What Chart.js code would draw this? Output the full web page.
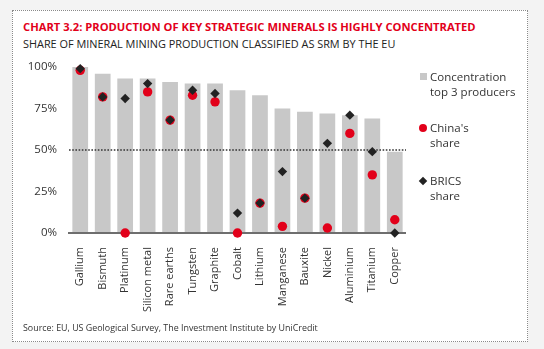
<!DOCTYPE html>
<html>
<head>
<meta charset="utf-8">
<script src="https://cdn.jsdelivr.net/npm/chart.js@4.4.1/dist/chart.umd.min.js"></script>
<style>
  html, body { margin: 0; padding: 0; background: #f3f3f3; }
  #page { position: relative; width: 544px; height: 349px; overflow: hidden; font-family: "Open Sans", sans-serif; }
  #panel { position: absolute; left: 12px; top: 10px; width: 516px; height: 332px; background: #fff;
           border: 1px dotted #8a8a8a; box-sizing: border-box; }
  #title { position: absolute; left: 23px; top: 19px; font-size: 11.2px; font-weight: bold; color: #e2001a; white-space: nowrap; }
  #subtitle { position: absolute; left: 23px; top: 36px; font-size: 10.9px; color: #222; white-space: nowrap; }
  #source { position: absolute; left: 23px; top: 321px; font-size: 8.9px; color: #333; white-space: nowrap; }
  #chart { position: absolute; left: 0; top: 0; }
  .leg { position: absolute; left: 430px; font-size: 11.5px; line-height: 15px; color: #333; }
  .sw { position: absolute; }
</style>
</head>
<body>
<div id="page">
  <div id="panel"></div>
  <div id="title">CHART 3.2: PRODUCTION OF KEY STRATEGIC MINERALS IS HIGHLY CONCENTRATED</div>
  <div id="subtitle">SHARE OF MINERAL MINING PRODUCTION CLASSIFIED AS SRM BY THE EU</div>
  <canvas id="chart" width="544" height="349"></canvas>

  <div class="sw" style="left:420px; top:73px; width:7px; height:7px; background:#c8c8c8;"></div>
  <div class="leg" style="top:69px;">Concentration<br>top 3 producers</div>

  <div class="sw" style="left:419px; top:124px; width:8px; height:8px; border-radius:50%; background:#e2001a;"></div>
  <div class="leg" style="top:120px;">China's<br>share</div>

  <div class="sw" style="left:420px; top:178px; width:6px; height:6px; background:#222; transform:rotate(45deg);"></div>
  <div class="leg" style="top:173px;">BRICS<br>share</div>

  <div id="source">Source: EU, US Geological Survey, The Investment Institute by UniCredit</div>
</div>

<script>
// minerals and shares (%)
const minerals = ['Gallium', 'Bismuth', 'Platinum', 'Silicon metal', 'Rare earths', 'Tungsten', 'Graphite',
  'Cobalt', 'Lithium', 'Manganese', 'Bauxite', 'Nickel', 'Aluminium', 'Titanium', 'Copper'];
const top3Share = [100, 96, 93, 93, 91, 90, 90, 86, 83, 75, 73, 72, 71, 69, 49];
const chinaShare = [98, 82, 0, 85, 68, 83, 79, 0, 18, 4, 21, 3, 60, 35, 8];
const bricsShare = [99, 82, 81, 90, 68, 86, 84, 12, 18, 37, 21, 54, 71, 49, 0];
const yTicks = [0, 25, 50, 75, 100];
const threshold = 50;

// baseline and 50% dotted line, painted over the bars but under the markers
const refLines = {
  id: 'refLines',
  afterDatasetDraw(chart, args) {
    if (args.index !== 0) return;
    const { ctx, chartArea, scales } = chart;
    ctx.save();
    const y50 = scales.y.getPixelForValue(threshold);
    ctx.strokeStyle = '#333';
    ctx.lineWidth = 1.6;
    ctx.setLineDash([1.6, 1.6]);
    ctx.beginPath();
    ctx.moveTo(chartArea.left, y50);
    ctx.lineTo(chartArea.right, y50);
    ctx.stroke();

    const y0 = scales.y.getPixelForValue(0);
    ctx.setLineDash([]);
    ctx.strokeStyle = '#6e6e6e';
    ctx.lineWidth = 2;
    ctx.beginPath();
    ctx.moveTo(chartArea.left - 1, y0);
    ctx.lineTo(chartArea.right, y0);
    ctx.stroke();
    ctx.restore();
  }
};

Chart.defaults.font.family = '"Open Sans", sans-serif';
Chart.defaults.color = '#333';

new Chart(document.getElementById('chart'), {
  data: {
    labels: minerals,
    datasets: [
      {
        type: 'bar',
        label: 'Concentration top 3 producers',
        data: top3Share,
        backgroundColor: '#c8c8c8',
        barPercentage: 0.7,
        categoryPercentage: 1,
        order: 3
      },
      {
        type: 'line',
        label: "China's share",
        data: chinaShare,
        showLine: false,
        pointStyle: 'circle',
        pointRadius: 4.7,
        pointBackgroundColor: '#e2001a',
        pointBorderWidth: 0,
        clip: false,
        order: 2
      },
      {
        type: 'line',
        label: 'BRICS share',
        data: bricsShare,
        showLine: false,
        pointStyle: 'rectRot',
        pointRadius: 4.7,
        pointBackgroundColor: '#222',
        pointBorderWidth: 0,
        clip: false,
        order: 1
      }
    ]
  },
  options: {
    responsive: false,
    animation: false,
    events: [],
    layout: { padding: { left: 20, right: 138, top: 67, bottom: 30 } },
    plugins: { legend: { display: false }, tooltip: { enabled: false } },
    scales: {
      x: {
        grid: { display: false },
        border: { display: false },
        ticks: { minRotation: 90, maxRotation: 90, autoSkip: false, padding: 6, font: { size: 11 } },
        afterFit(scale) { scale.height = 86; }
      },
      y: {
        min: 0,
        max: 100,
        grid: { display: false, drawTicks: false },
        border: { display: false },
        afterBuildTicks(scale) { scale.ticks = yTicks.map(v => ({ value: v })); },
        ticks: { padding: 12, font: { size: 11.5 }, callback: v => v + '%' },
        afterFit(scale) { scale.width = 49; }
      }
    }
  },
  plugins: [refLines]
});
</script>
</body>
</html>
